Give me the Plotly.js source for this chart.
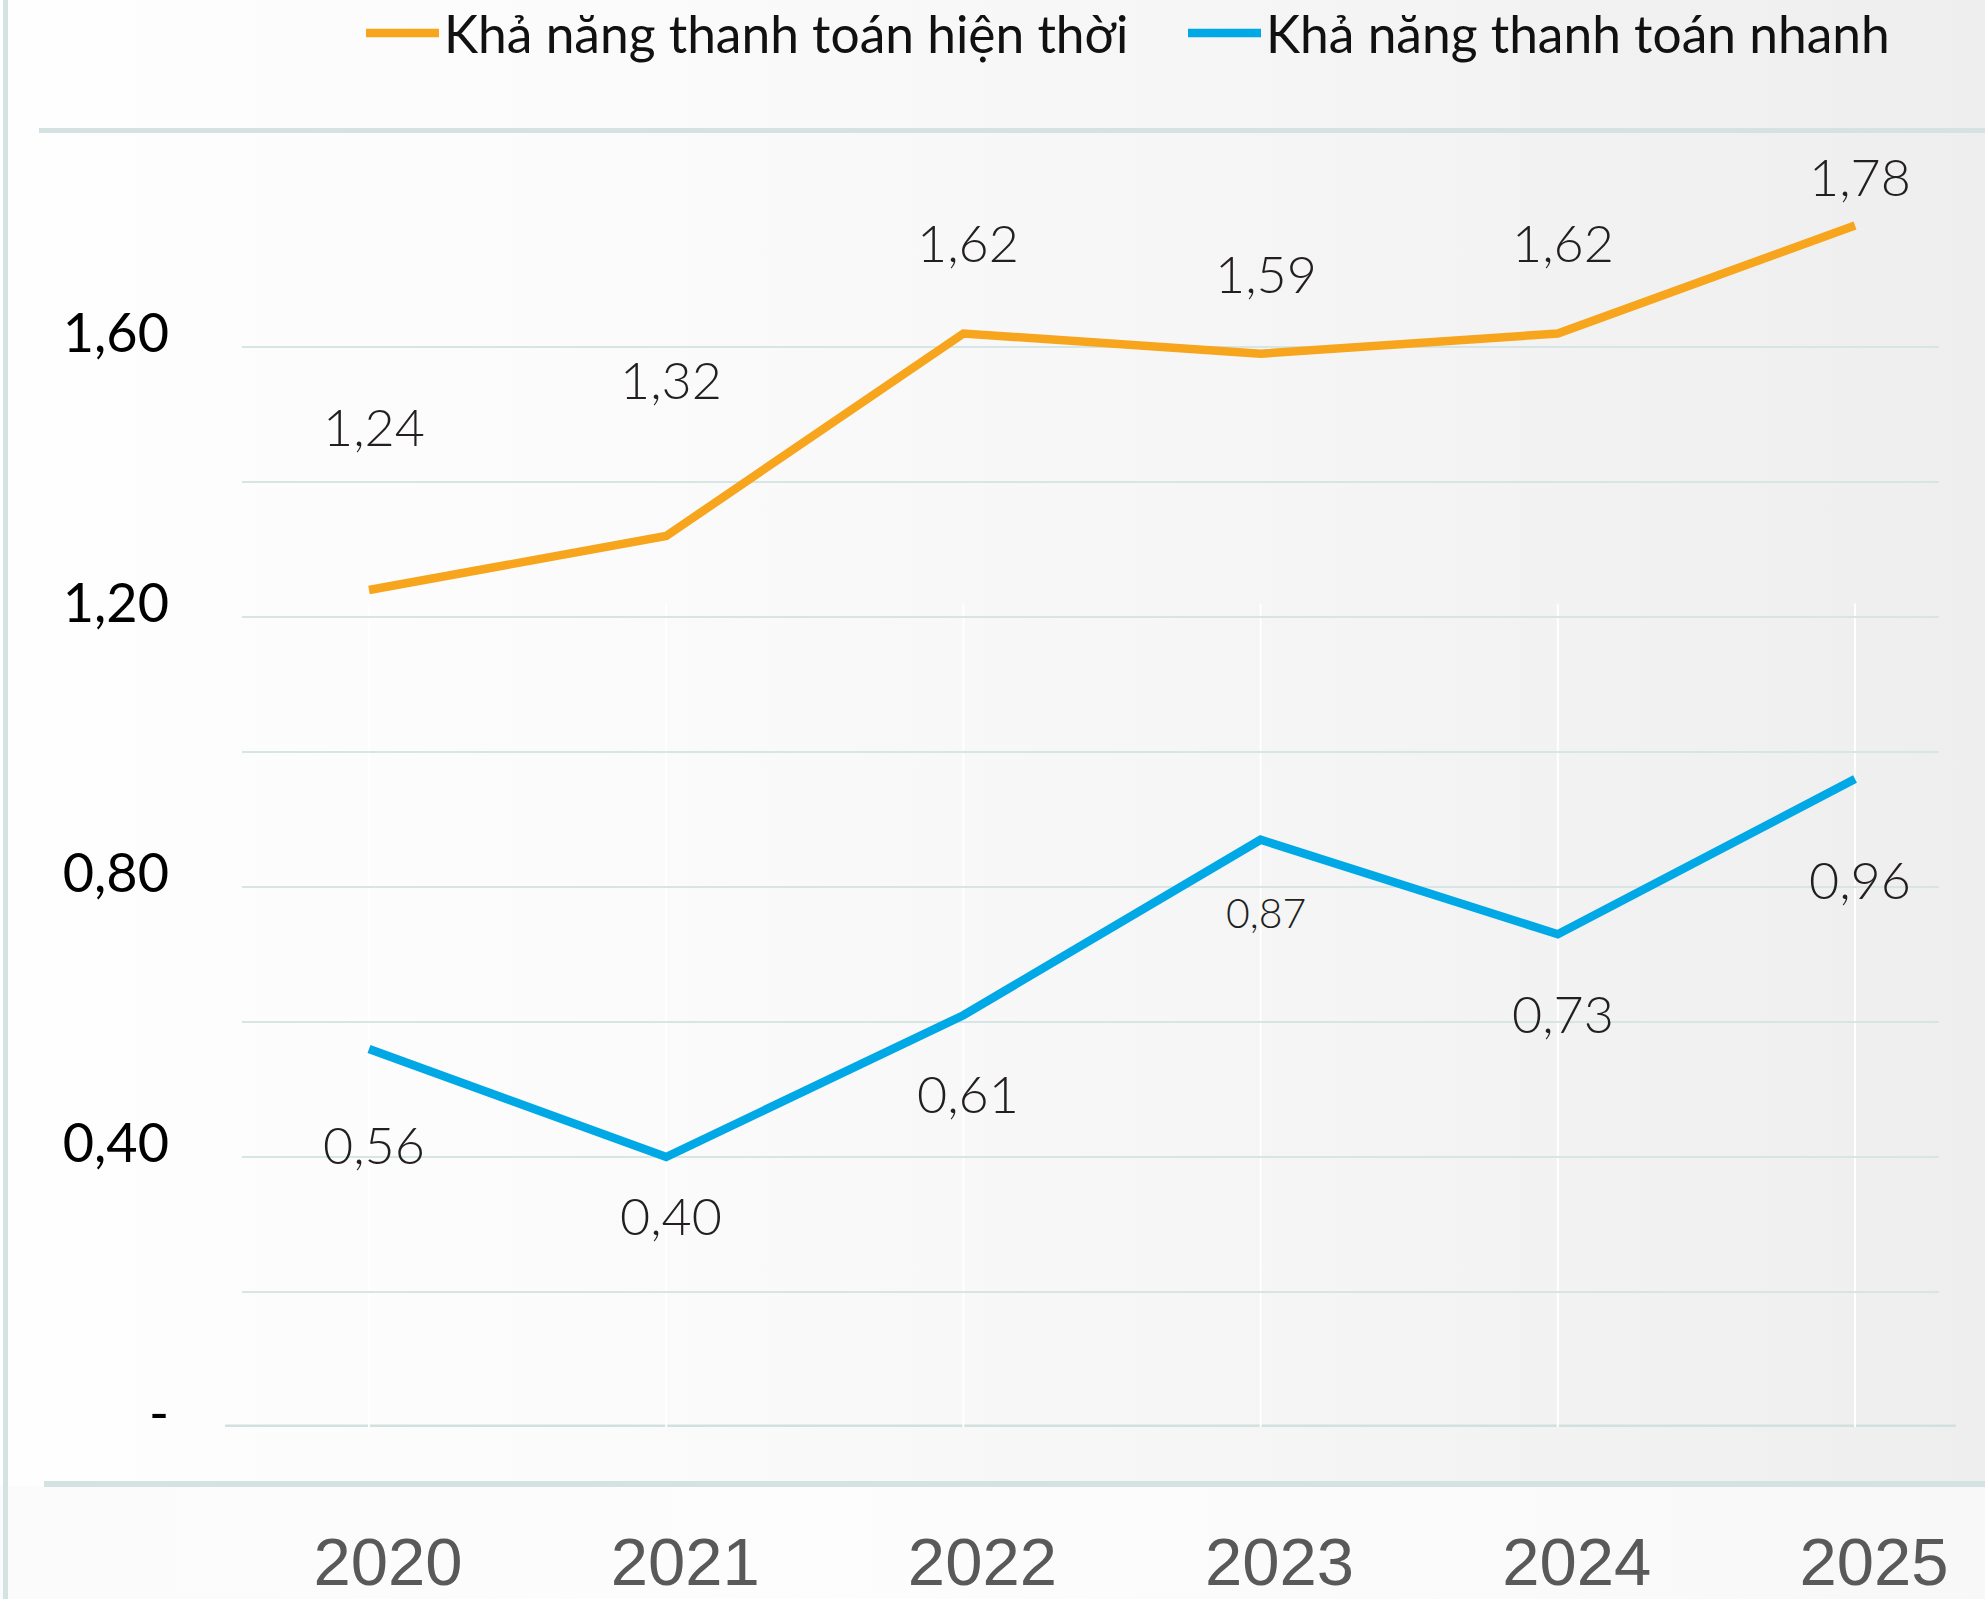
<!DOCTYPE html>
<html><head><meta charset="utf-8">
<script src="https://cdn.plot.ly/plotly-3.0.1.min.js"></script>
<style>
html,body{margin:0;padding:0;}
body{width:1985px;height:1599px;overflow:hidden;position:relative;
 background:linear-gradient(to right,#fefefe 0%,#fbfbfb 30%,#f6f6f6 60%,#f1f1f1 85%,#eeeeee 100%);}
#lower{position:absolute;left:0;top:1486px;width:1985px;height:113px;
 background:linear-gradient(to right,#fbfbfb 0%,#fdfdfd 40%,#fafafa 80%,#f8f8f8 100%);}
#frame{position:absolute;left:3px;top:0;width:5px;height:1599px;background:#d4e3e2;}
#chart{position:absolute;left:0;top:0;width:1985px;height:1599px;}
</style></head><body>
<div id="lower"></div><div id="frame"></div><div id="chart"></div>
<script>
// ---- data ----
const years = ['2020', '2021', '2022', '2023', '2024', '2025'];
const currentRatio = [1.24, 1.32, 1.62, 1.59, 1.62, 1.78];
const quickRatio = [0.56, 0.40, 0.61, 0.87, 0.73, 0.96];
const seriesNames = ['Khả năng thanh toán hiện thời', 'Khả năng thanh toán nhanh'];
const gridVals = [0, 0.2, 0.4, 0.6, 0.8, 1.0, 1.2, 1.4, 1.6];
const gridText = ['-', '', '0,40', '', '0,80', '', '1,20', '', '1,60'];

// ---- label styling (pixel nudges / sizes) ----
const currentLabelShift = [164, 157, 92, 81, 92, 50];
const quickLabelShift = [-95, -58, -78, -73, -79, -100];
const quickLabelSize = [52, 52, 52, 41, 52, 52];

const ORANGE = '#f7a51c', BLUE = '#00a9e6';
const W = 1985, H = 1599, L = 242, R = 1939, T = 130, B = 1427;
const plotW = R - L, plotH = B - T;
const catStep = 297.2, firstCat = 369;
const xr0 = -(firstCat - L) / catStep;
const xr1 = xr0 + plotW / catStep;
const pxPerUnit = 675;

const fmt = v => v.toFixed(2).replace('.', ',');
const px2paperY = py => (B - py) / plotH;
const px2paperX = px => (px - L) / plotW;

const traces = [
  {x: years, y: currentRatio, name: seriesNames[0], type: 'scatter', mode: 'lines',
   line: {color: ORANGE, width: 8.5}, hoverinfo: 'skip', cliponaxis: false},
  {x: years, y: quickRatio, name: seriesNames[1], type: 'scatter', mode: 'lines',
   line: {color: BLUE, width: 8.5}, hoverinfo: 'skip', cliponaxis: false}
];

const labelFont = (size) => ({family: 'Lato, Roboto, sans-serif', size: size, color: '#231f20', weight: 300});
const annotations = [];
years.forEach((yr, i) => {
  annotations.push({x: i, y: currentRatio[i], xref: 'x', yref: 'y', text: fmt(currentRatio[i]),
    showarrow: false, xshift: 5, yshift: currentLabelShift[i], font: labelFont(52)});
  annotations.push({x: i, y: quickRatio[i], xref: 'x', yref: 'y', text: fmt(quickRatio[i]),
    showarrow: false, xshift: 5, yshift: quickLabelShift[i], font: labelFont(quickLabelSize[i])});
});

const shapes = [
  {type: 'line', xref: 'paper', yref: 'paper', x0: px2paperX(39), x1: px2paperX(1985),
   y0: px2paperY(130.5), y1: px2paperY(130.5), line: {color: '#d4e3e2', width: 5}, layer: 'below'},
  {type: 'line', xref: 'paper', yref: 'paper', x0: px2paperX(44), x1: px2paperX(1985),
   y0: px2paperY(1484), y1: px2paperY(1484), line: {color: '#d4e3e2', width: 6}, layer: 'below'},
  {type: 'line', xref: 'paper', yref: 'y', x0: px2paperX(225), x1: px2paperX(1956),
   y0: 0, y1: 0, line: {color: '#d2e1e0', width: 5}, layer: 'below'}
];
years.forEach((yr, i) => {
  shapes.push({type: 'line', xref: 'x', yref: 'y', x0: i, x1: i, y0: 0, y1: 1.22,
    line: {color: 'rgba(255,255,255,0.95)', width: 2}, layer: 'below'});
});

const layout = {
  width: W, height: H,
  margin: {l: L, r: W - R, t: T, b: H - B, pad: 0, autoexpand: false},
  paper_bgcolor: 'rgba(0,0,0,0)', plot_bgcolor: 'rgba(0,0,0,0)',
  showlegend: true,
  legend: {orientation: 'h', x: px2paperX(361), xanchor: 'left', y: px2paperY(33), yanchor: 'middle',
    font: {family: 'Lato, sans-serif', size: 51.5, color: '#111'}, bgcolor: 'rgba(0,0,0,0)',
    itemwidth: 73, entrywidth: 734, entrywidthmode: 'pixels', traceorder: 'normal'},
  xaxis: {type: 'category', range: [xr0, xr1], showgrid: false, zeroline: false, showline: false,
    ticks: '', tickfont: {family: 'Liberation Sans, Arial, sans-serif', size: 67, color: '#595959'},
    ticklabelstandoff: 90, ticklabelshift: 19, fixedrange: true},
  yaxis: {range: [0, plotH / pxPerUnit], tickmode: 'array', tickvals: gridVals, ticktext: gridText,
    showgrid: true, gridcolor: '#d8e5e5', gridwidth: 2, zeroline: false, showline: false, ticks: '',
    tickfont: {family: 'Lato, sans-serif', size: 54, color: '#000'}, ticklabelstandoff: 72,
    ticklabelshift: -14, fixedrange: true},
  annotations: annotations,
  shapes: shapes
};

Plotly.newPlot('chart', traces, layout, {displayModeBar: false, staticPlot: true});
</script>
</body></html>
